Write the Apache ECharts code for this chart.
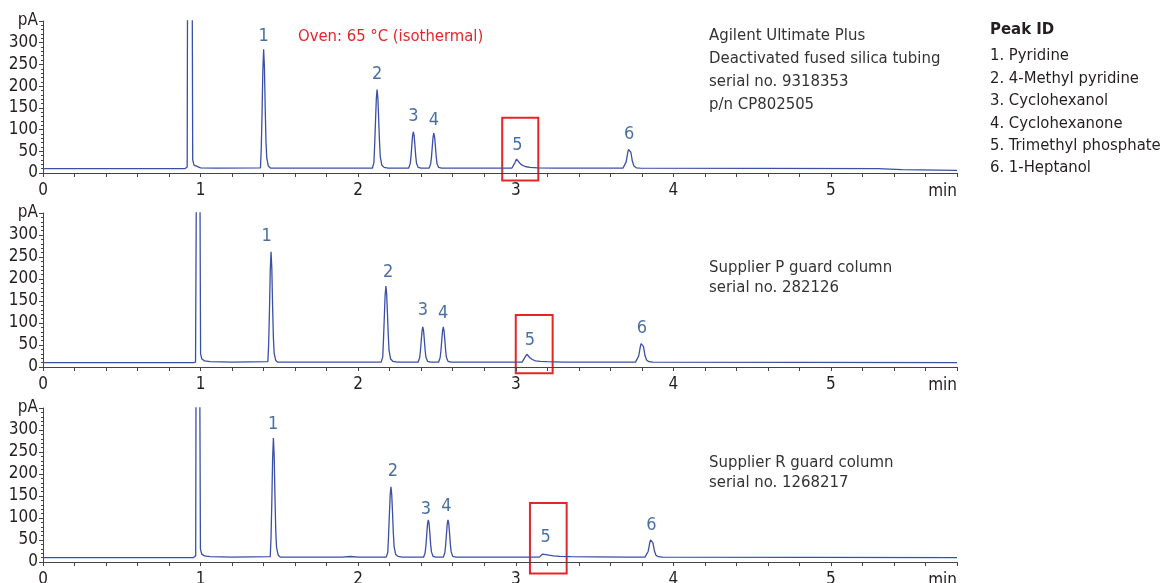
<!DOCTYPE html>
<html>
<head>
<meta charset="utf-8">
<script src="https://cdn.jsdelivr.net/npm/echarts@6/dist/echarts.min.js"></script>
<style>
  html, body { margin: 0; padding: 0; background: #fff; }
  #chart { width: 1163px; height: 583px; }
</style>
</head>
<body>
<div id="chart"></div>
<script>
// chromatogram traces [min, pA]
const traceUltimate = [
    [0, 10], [0.90, 10], [0.912, 11], [0.915, 14], [0.917, 400], [0.947, 400], [0.95, 30], [0.958, 18], [0.97, 14], [1.0, 12], [1.1, 11],
    [1.38, 12], [1.385, 57], [1.39, 136], [1.395, 235], [1.40, 285], [1.405, 245], [1.41, 150], [1.415, 72], [1.42, 34], [1.43, 16], [1.445, 11],
    [2.09, 11], [2.10, 24], [2.105, 68], [2.11, 119], [2.115, 170], [2.12, 192], [2.125, 172], [2.13, 125], [2.135, 75], [2.14, 38], [2.15, 18], [2.165, 13], [2.19, 11],
    [2.32, 11], [2.33, 21], [2.335, 37], [2.34, 61], [2.345, 85], [2.35, 95], [2.355, 86], [2.36, 64], [2.365, 40], [2.37, 23], [2.38, 13], [2.40, 11],
    [2.45, 11], [2.46, 21], [2.465, 36], [2.47, 59], [2.475, 82], [2.48, 92], [2.485, 83], [2.49, 62], [2.495, 39], [2.50, 22], [2.51, 13], [2.53, 11],
    [2.975, 11], [2.985, 14], [2.995, 24], [3.005, 32], [3.015, 29], [3.025, 23], [3.04, 18], [3.06, 15], [3.09, 13], [3.14, 12], [3.25, 11],
    [3.68, 11], [3.69, 14], [3.70, 25], [3.705, 35], [3.71, 46], [3.715, 54], [3.72, 57], [3.725, 55], [3.73, 48], [3.735, 38], [3.74, 27], [3.75, 16], [3.765, 12], [3.79, 11],
    [5.3, 10], [5.45, 8], [5.8, 6]
]
const traceSupplierP = [
    [0, 10], [0.955, 10], [0.968, 11], [0.971, 14], [0.973, 400], [0.996, 400], [1.0, 30], [1.008, 18], [1.025, 14], [1.06, 12], [1.2, 11],
    [1.427, 12], [1.432, 53], [1.437, 126], [1.442, 217], [1.447, 262], [1.452, 225], [1.457, 138], [1.462, 66], [1.467, 31], [1.477, 15], [1.49, 11],
    [2.146, 11], [2.156, 23], [2.161, 66], [2.166, 114], [2.171, 163], [2.176, 184], [2.181, 165], [2.186, 120], [2.191, 72], [2.196, 37], [2.206, 18], [2.22, 13], [2.25, 11],
    [2.38, 11], [2.39, 21], [2.395, 36], [2.40, 59], [2.405, 81], [2.41, 91], [2.415, 82], [2.42, 61], [2.425, 38], [2.43, 22], [2.44, 13], [2.46, 11],
    [2.51, 11], [2.52, 21], [2.525, 36], [2.53, 59], [2.535, 81], [2.54, 91], [2.545, 82], [2.55, 61], [2.555, 38], [2.56, 22], [2.57, 13], [2.59, 11],
    [3.04, 11], [3.05, 14], [3.06, 23], [3.07, 29], [3.08, 26], [3.09, 21], [3.105, 17], [3.125, 14], [3.155, 13], [3.2, 12], [3.3, 11],
    [3.5, 11], [3.508, 14], [3.515, 11],
    [3.76, 11], [3.77, 14], [3.78, 25], [3.785, 35], [3.79, 45], [3.795, 53], [3.80, 56], [3.805, 54], [3.81, 47], [3.815, 37], [3.82, 26], [3.83, 16], [3.845, 12], [3.87, 11],
    [5.8, 10]
]
const traceSupplierR = [
    [0, 10], [0.955, 10], [0.966, 11], [0.969, 14], [0.971, 400], [0.995, 400], [0.999, 30], [1.007, 18], [1.025, 14], [1.06, 12], [1.2, 11],
    [1.442, 12], [1.447, 56], [1.452, 135], [1.457, 233], [1.462, 282], [1.467, 242], [1.472, 148], [1.477, 71], [1.482, 33], [1.492, 16], [1.505, 11],
    [1.9, 11], [1.95, 12.5], [2.0, 11],
    [2.178, 11], [2.188, 22], [2.193, 62], [2.198, 107], [2.203, 152], [2.208, 171], [2.213, 153], [2.218, 112], [2.223, 67], [2.228, 35], [2.238, 17], [2.252, 13], [2.28, 11],
    [2.415, 11], [2.425, 21], [2.43, 38], [2.435, 62], [2.44, 86], [2.445, 96], [2.45, 87], [2.455, 65], [2.46, 40], [2.465, 23], [2.475, 13], [2.495, 11],
    [2.54, 11], [2.55, 21], [2.555, 38], [2.56, 62], [2.565, 86], [2.57, 96], [2.575, 87], [2.58, 65], [2.585, 40], [2.59, 23], [2.60, 13], [2.62, 11],
    [3.15, 11], [3.16, 13], [3.17, 18], [3.178, 19], [3.19, 17], [3.21, 15.5], [3.24, 14], [3.28, 13], [3.35, 12], [3.5, 11.5], [3.7, 11],
    [3.82, 11], [3.83, 14], [3.84, 24], [3.845, 33], [3.85, 43], [3.855, 50], [3.86, 53], [3.865, 51], [3.87, 44], [3.875, 35], [3.88, 25], [3.89, 15], [3.905, 12], [3.93, 11],
    [5.8, 10]
]
// peak numbers: [min, pA, text]
const labelsUltimate = [[1.40, 314, '1'], [2.12, 228, '2'], [2.35, 130, '3'], [2.48, 121, '4'], [3.01, 64, '5'], [3.72, 88, '6']]
const labelsSupplierP = [[1.42, 298, '1'], [2.19, 216, '2'], [2.41, 129, '3'], [2.54, 122, '4'], [3.09, 61, '5'], [3.80, 88, '6']]
const labelsSupplierR = [[1.46, 314, '1'], [2.22, 207, '2'], [2.43, 120, '3'], [2.56, 127, '4'], [3.19, 55, '5'], [3.86, 83, '6']]
// red boxes around peak 5: [xFrom, yTop, xTo, yBottom]
const boxUltimate = [2.914, 127, 3.143, -17.5]
const boxSupplierP = [3.0, 118, 3.234, -14]
const boxSupplierR = [3.09, 134, 3.323, -26]

const peakNames = ['1. Pyridine', '2. 4-Methyl pyridine', '3. Cyclohexanol', '4. Cyclohexanone', '5. Trimethyl phosphate', '6. 1-Heptanol']

const FONT = '"DejaVu Sans Condensed", sans-serif'
const LINE_COLOR = '#3a4fa6'
const LABEL_COLOR = '#1c4a8a'
const RED = '#e52629'
const TEXT_COLOR = '#231f20'

const grids = [
    {left: 43, width: 914, top: 21, height: 152, outerBoundsMode: 'none'},
    {left: 43, width: 914, top: 213, height: 154, outerBoundsMode: 'none'},
    {left: 43, width: 914, top: 408, height: 154, outerBoundsMode: 'none'}
]

function xAxisOf(i) {
    return {
        type: 'value', gridIndex: i, min: 0, max: 5.8, interval: 0.2,
        name: 'min', nameLocation: 'end', nameGap: 0,
        nameTextStyle: {fontFamily: FONT, fontSize: 17, color: TEXT_COLOR, align: 'right', verticalAlign: 'top', padding: [10, 0, 0, 0]},
        axisLine: {onZero: false, lineStyle: {color: '#444', width: 1}},
        axisTick: {length: 4, lineStyle: {color: '#444'}},
        splitLine: {show: false},
        axisLabel: {
            fontFamily: FONT, fontSize: 17, color: TEXT_COLOR, margin: 9,
            formatter: v => (Math.abs(v - Math.round(v)) < 1e-6 && v < 5.5 ? String(Math.round(v)) : '')
        }
    }
}

function yAxisOf(i) {
    return {
        type: 'value', gridIndex: i, min: 0, max: 350, interval: 50,
        axisLine: {show: true, lineStyle: {color: '#444', width: 1}},
        axisTick: {show: true, length: 4, lineStyle: {color: '#444'}},
        minorTick: {show: true, splitNumber: 5, length: 2, lineStyle: {color: '#444'}},
        splitLine: {show: false},
        axisLabel: {
            fontFamily: FONT, fontSize: 17, color: TEXT_COLOR, margin: 5,
            formatter: v => (v === 350 ? 'pA' : v)
        }
    }
}

function traceSeries(i, data) {
    return {
        type: 'line', xAxisIndex: i, yAxisIndex: i, data: data,
        showSymbol: false, silent: true, animation: false,
        lineStyle: {color: LINE_COLOR, width: 1.3}
    }
}

function labelSeries(i, data) {
    return {
        type: 'scatter', xAxisIndex: i, yAxisIndex: i, data: data,
        symbolSize: 0, silent: true, animation: false,
        label: {
            show: true, position: 'inside', formatter: p => p.data[2],
            fontFamily: FONT, fontSize: 18, color: LABEL_COLOR
        }
    }
}

const option = {
    animation: false,
    grid: grids,
    xAxis: [xAxisOf(0), xAxisOf(1), xAxisOf(2)],
    yAxis: [yAxisOf(0), yAxisOf(1), yAxisOf(2)],
    series: [
        traceSeries(0, traceUltimate), traceSeries(1, traceSupplierP), traceSeries(2, traceSupplierR),
        labelSeries(0, labelsUltimate), labelSeries(1, labelsSupplierP), labelSeries(2, labelsSupplierR)
    ]
}

const myChart = echarts.init(document.getElementById('chart'))
myChart.setOption(option)

// 红框和文字注释
function boxGraphic(i, box) {
    const p1 = myChart.convertToPixel({gridIndex: i}, [box[0], box[1]])
    const p2 = myChart.convertToPixel({gridIndex: i}, [box[2], box[3]])
    return {
        type: 'rect', silent: true,
        shape: {x: p1[0], y: p1[1], width: p2[0] - p1[0], height: p2[1] - p1[1]},
        style: {fill: 'none', stroke: RED, lineWidth: 2}
    }
}

function textGraphic(x, y, text, size, lineHeight, color, weight) {
    return {
        type: 'text', left: x, top: y, silent: true,
        style: {
            text: text, fontFamily: FONT, fontSize: size, lineHeight: lineHeight,
            fill: color, fontWeight: weight || 'normal'
        }
    }
}

myChart.setOption({
    graphic: [
        boxGraphic(0, boxUltimate), boxGraphic(1, boxSupplierP), boxGraphic(2, boxSupplierR),
        textGraphic(298, 27, 'Oven: 65 °C (isothermal)', 16.5, 20, RED),
        textGraphic(709, 24, 'Agilent Ultimate Plus\nDeactivated fused silica tubing\nserial no. 9318353\np/n CP802505', 16.6, 23, '#333'),
        textGraphic(709, 258, 'Supplier P guard column\nserial no. 282126', 16.6, 20, '#333'),
        textGraphic(709, 453, 'Supplier R guard column\nserial no. 1268217', 16.6, 20, '#333'),
        textGraphic(990, 20, 'Peak ID', 16.6, 20, TEXT_COLOR, 'bold'),
        textGraphic(990, 45, peakNames.join('\n'), 16.5, 22.4, TEXT_COLOR)
    ]
})
</script>
</body>
</html>
